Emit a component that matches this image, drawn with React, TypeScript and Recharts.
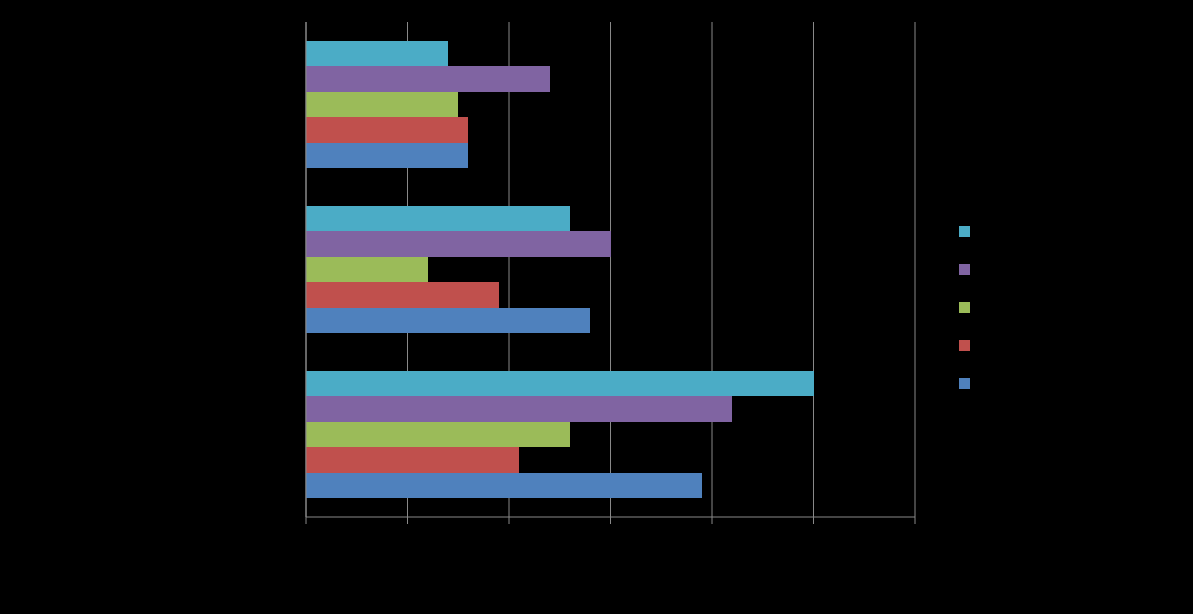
import { BarChart, Bar, XAxis, YAxis, CartesianGrid } from 'recharts';

// categories listed top to bottom as drawn
const categories = ['Category 3', 'Category 2', 'Category 1'];

// series listed top to bottom inside each group
const seriesNames = ['Series 5', 'Series 4', 'Series 3', 'Series 2', 'Series 1'];
const seriesColors = ['#4BACC6', '#8064A2', '#9BBB59', '#C0504D', '#4F81BD'];

const series5 = [1.4, 2.6, 5.0];
const series4 = [2.4, 3.0, 4.2];
const series3 = [1.5, 1.2, 2.6];
const series2 = [1.6, 1.9, 2.1];
const series1 = [1.6, 2.8, 3.9];

const xTicks = [0, 1, 2, 3, 4, 5, 6];

const seriesValues = [series5, series4, series3, series2, series1];

const chartData = categories.map((name, i) => {
  const row: Record<string, string | number> = { name };
  seriesNames.forEach((s, j) => {
    row[s] = seriesValues[j][i];
  });
  return row;
});

const gridColor = '#898989';

export default function App() {
  return (
    <div style={{ position: 'fixed', left: 0, top: 0, width: 1193, height: 614, background: '#000', fontFamily: 'Liberation Sans, Arial, sans-serif' }}>
      <BarChart
        width={1193}
        height={614}
        data={chartData}
        layout="vertical"
        margin={{ top: 22, right: 278, left: 246, bottom: 67 }}
        barSize={25.4}
        barGap={0}
      >
        <CartesianGrid horizontal={false} stroke={gridColor} strokeWidth={1} />
        <XAxis
          type="number"
          domain={[0, 6]}
          ticks={xTicks}
          height={30}
          stroke={gridColor}
          tickSize={7}
          tick={{ fill: '#000', fontSize: 12 }}
        />
        <YAxis
          type="category"
          dataKey="name"
          width={60}
          stroke={gridColor}
          tickLine={false}
          tick={{ fill: '#000', fontSize: 12 }}
        />
        {seriesNames.map((s, j) => (
          <Bar key={s} dataKey={s} fill={seriesColors[j]} shapeRendering="crispEdges" isAnimationActive={false} />
        ))}
      </BarChart>
      <div style={{ position: 'absolute', left: 959, top: 225 }}>
        {seriesNames.map((s, j) => (
          <div key={s} style={{ display: 'flex', alignItems: 'center', height: 38, marginTop: j === 0 ? -13 : 0 }}>
            <span style={{ width: 11, height: 11, background: seriesColors[j], display: 'inline-block' }} />
            <span style={{ marginLeft: 6, color: '#000', fontSize: 12 }}>{s}</span>
          </div>
        ))}
      </div>
    </div>
  );
}
